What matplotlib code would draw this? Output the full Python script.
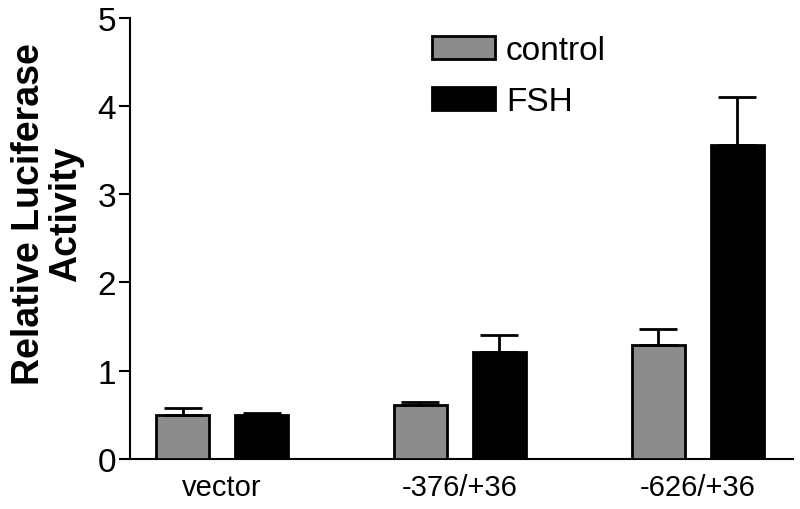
import numpy as np
import matplotlib.pyplot as plt

plt.rcParams['font.family'] = ['Liberation Sans', 'DejaVu Sans']

# data
constructs = ['vector', '-376/+36', '-626/+36']
control = [0.495, 0.61, 1.29]
control_err = [0.08, 0.04, 0.18]
fsh = [0.50, 1.21, 3.56]
fsh_err = [0.02, 0.20, 0.54]

x = np.arange(len(constructs))
w = 0.223
off = 0.166

fig = plt.figure(figsize=(8, 5.1), dpi=100)
ax = fig.add_axes([0.1625, 0.098, 0.8285, 0.8653])

ebar = dict(elinewidth=2, capthick=2, ecolor='black')
ax.bar(x - off, control, w, color='#8c8c8c', edgecolor='black', linewidth=2,
       yerr=[np.zeros(3), control_err], capsize=14, error_kw=ebar, label='control', zorder=3)
ax.bar(x + off, fsh, w, color='black', edgecolor='black', linewidth=2,
       yerr=[np.zeros(3), fsh_err], capsize=14, error_kw=ebar, label='FSH', zorder=3)

ax.set_xlim(-0.387, 2.40)
ax.set_ylim(0, 5)
ax.set_yticks([0, 1, 2, 3, 4, 5])
ax.set_xticks(x)
ax.set_xticklabels(constructs, fontsize=21)
ax.tick_params(axis='y', labelsize=24, length=8, width=1.5, pad=2)
ax.tick_params(axis='x', length=0, pad=10)
for s in ['top', 'right']:
    ax.spines[s].set_visible(False)
for s in ['left', 'bottom']:
    ax.spines[s].set_linewidth(1.5)

leg = ax.legend(loc='upper left', bbox_to_anchor=(432 / 800, 1 - 36 / 510),
                bbox_transform=fig.transFigure, frameon=False, fontsize=24,
                handlelength=1.89, handleheight=0.69, labelspacing=0.6,
                handletextpad=0.33, borderpad=0, borderaxespad=0)

fig.text(47.5 / 800, 1 - 214 / 510, 'Relative Luciferase\nActivity', rotation=90,
         ha='center', va='center', fontsize=27, fontweight='bold',
         multialignment='center', linespacing=1.05)

fig.savefig('out.png', dpi=100)
